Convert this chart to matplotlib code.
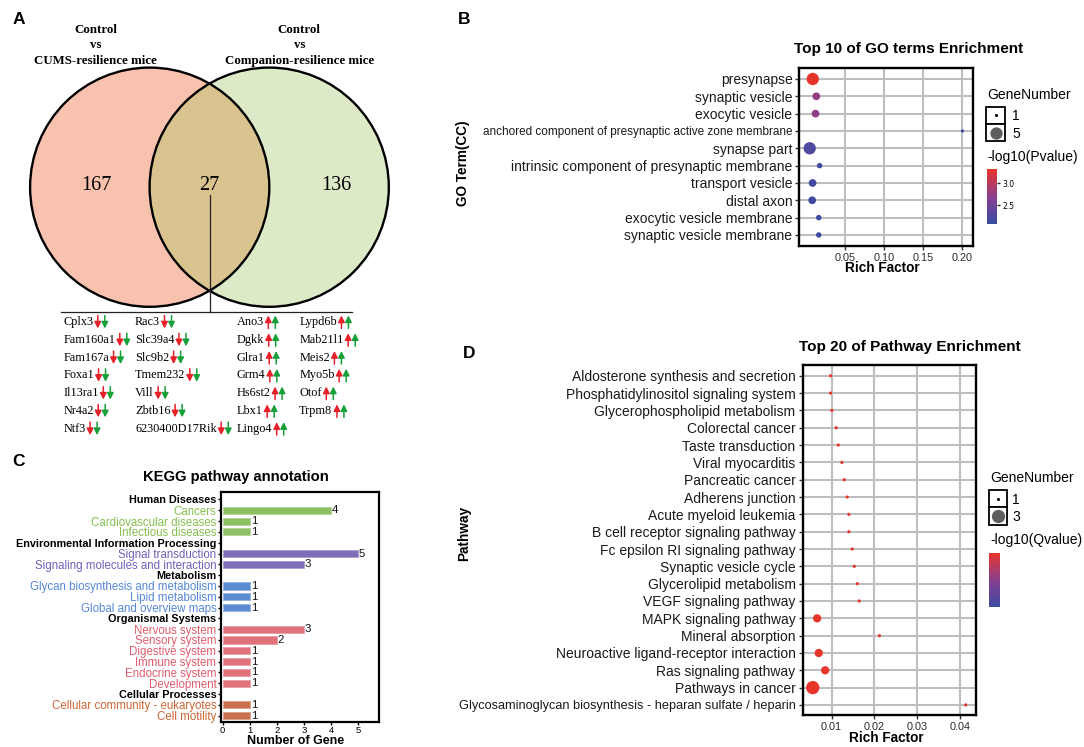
import numpy as np
import matplotlib
matplotlib.use("Agg")
import matplotlib.pyplot as plt
from matplotlib.patches import Circle, Rectangle
from matplotlib.colors import LinearSegmentedColormap, Normalize, to_rgb
from matplotlib.cm import ScalarMappable

W, H, DPI = 1084, 747, 100
SANS = "Liberation Sans"
SERIF = "Liberation Serif"

# ------------------------------------------------------------------ data
venn_titles = ["Control\nvs\nCUMS-resilience mice",
               "Control\nvs\nCompanion-resilience mice"]
venn_counts = [167, 27, 136]          # left only, shared, right only

gene_col1 = ["Cplx3", "Fam160a1", "Fam167a", "Foxa1", "Il13ra1", "Nr4a2", "Ntf3"]
gene_col2 = ["Rac3", "Slc39a4", "Slc9b2", "Tmem232", "Vill", "Zbtb16", "6230400D17Rik"]
gene_col3 = ["Ano3", "Dgkk", "Glra1", "Grm4", "Hs6st2", "Lbx1", "Lingo4"]
gene_col4 = ["Lypd6b", "Mab21l1", "Meis2", "Myo5b", "Otof", "Trpm8"]
# direction in (CUMS, Companion) per column
gene_col_dirs = [("down", "down"), ("down", "down"), ("up", "up"), ("up", "up")]

go_terms = ["presynapse", "synaptic vesicle", "exocytic vesicle",
            "anchored component of presynaptic active zone membrane",
            "synapse part", "intrinsic component of presynaptic membrane",
            "transport vesicle", "distal axon", "exocytic vesicle membrane",
            "synaptic vesicle membrane"]
go_rich = [0.0081, 0.0127, 0.0117, 0.200, 0.0042, 0.0169, 0.0079, 0.0074, 0.0158, 0.0158]
go_count = [5, 3, 3, 1, 5, 2, 3, 3, 2, 2]
go_logp = [3.30, 2.76, 2.72, 2.10, 2.24, 2.12, 2.15, 2.14, 2.10, 2.10]
go_xticks = [0.05, 0.10, 0.15, 0.20]
go_legend_counts = [1, 5]
go_cbar_ticks = [2.5, 3.0]

pw_terms = ["Aldosterone synthesis and secretion",
            "Phosphatidylinositol signaling system",
            "Glycerophospholipid metabolism", "Colorectal cancer",
            "Taste transduction", "Viral myocarditis", "Pancreatic cancer",
            "Adherens junction", "Acute myeloid leukemia",
            "B cell receptor signaling pathway",
            "Fc epsilon RI signaling pathway", "Synaptic vesicle cycle",
            "Glycerolipid metabolism", "VEGF signaling pathway",
            "MAPK signaling pathway", "Mineral absorption",
            "Neuroactive ligand-receptor interaction", "Ras signaling pathway",
            "Pathways in cancer",
            "Glycosaminoglycan biosynthesis - heparan sulfate / heparin"]
pw_rich = [0.00977, 0.00977, 0.01008, 0.01109, 0.01156, 0.01242, 0.01297,
           0.01367, 0.01406, 0.01406, 0.01484, 0.01531, 0.01602, 0.01648,
           0.00662, 0.0212, 0.0070, 0.0085, 0.0056, 0.0414]
pw_count = [1, 1, 1, 1, 1, 1, 1, 1, 1, 1, 1, 1, 1, 1, 2, 1, 2, 2, 3, 1]
pw_logq = [1.0] * 20
pw_xticks = [0.01, 0.02, 0.03, 0.04]
pw_legend_counts = [1, 3]

kegg_groups = ["Human Diseases", "Environmental Information Processing",
               "Metabolism", "Organismal Systems", "Cellular Processes"]
kegg_terms = [["Cancers", "Cardiovascular diseases", "Infectious diseases"],
              ["Signal transduction", "Signaling molecules and interaction"],
              ["Glycan biosynthesis and metabolism", "Lipid metabolism",
               "Global and overview maps"],
              ["Nervous system", "Sensory system", "Digestive system",
               "Immune system", "Endocrine system", "Development"],
              ["Cellular community - eukaryotes", "Cell motility"]]
kegg_counts = [[4, 1, 1], [5, 3], [1, 1, 1], [3, 2, 1, 1, 1, 1], [1, 1]]
kegg_bar_colors = ["#8DC063", "#7E6EB8", "#5D8BD0", "#E0727B", "#C9714F"]
kegg_text_colors = ["#86BF4E", "#7160B8", "#5587D6", "#E05C6C", "#CD6535"]

# ------------------------------------------------------------------ helpers
fig = plt.figure(figsize=(W / DPI, H / DPI), dpi=DPI)
ov = fig.add_axes([0, 0, 1, 1])
ov.set_xlim(0, W)
ov.set_ylim(H, 0)
ov.axis("off")


def add_ax(l, t, r, b):
    return fig.add_axes([l / W, 1 - b / H, (r - l) / W, (b - t) / H])


def dot_s(v, vmax, dmax_px, dmin_px=3.2):
    d = dmin_px + (dmax_px - dmin_px) * (v - 1) / (vmax - 1)
    return (d * 72.0 / DPI) ** 2


def lighten(c, f):
    r, g, b = to_rgb(c)
    return (r + (1 - r) * f, g + (1 - g) * f, b + (1 - b) * f)


cmap = LinearSegmentedColormap.from_list("bp", ["#3A4BA3", "#893F8E", "#E8352B"])

# panel letters
for lab, x, y in [("A", 13, 20), ("B", 458, 19), ("C", 12, 462), ("D", 463, 354)]:
    ov.text(x, y, lab, family=SANS, fontsize=12.5, fontweight="bold",
            ha="left", va="center")

# ------------------------------------------------------------------ panel A
cL, cR, rad = (149.7, 187.2), (269.2, 187.2), 119.6
ov.add_patch(Circle(cL, rad, facecolor="#F9C2AF", edgecolor="none", zorder=1))
ov.add_patch(Circle(cR, rad, facecolor="#DDEAC7", edgecolor="none", zorder=1))
clip = Circle(cR, rad, transform=ov.transData)
lens = Circle(cL, rad, facecolor="#D9C48F", edgecolor="none", zorder=2)
ov.add_patch(lens)
lens.set_clip_path(clip)
for c in (cL, cR):
    ov.add_patch(Circle(c, rad, fill=False, edgecolor="black", lw=1.7, zorder=3))

for x, cnt in zip([96.7, 209.7, 336.0], venn_counts):
    ov.text(x, 185, str(cnt), family=SERIF, fontsize=14.5, ha="center",
            va="center", zorder=4)
for x, t in zip([95.7, 299.3], venn_titles):
    ov.text(x, 45.5, t, family=SERIF, fontsize=9.3, fontweight="bold",
            ha="center", va="center", multialignment="center", linespacing=1.38)

ov.plot([209.7, 209.7], [195, 312.3], color="#222222", lw=0.9, zorder=4)
ov.plot([60.7, 351.7], [312.3, 312.3], color="#222222", lw=0.9, zorder=4)

renderer = fig.canvas.get_renderer()
arrow_colors = ["#E8202A", "#17A03A"]
for x0, genes, dirs in zip([63.3, 135.0, 236.7, 299.3],
                           [gene_col1, gene_col2, gene_col3, gene_col4],
                           gene_col_dirs):
    for i, g in enumerate(genes):
        y = 322.0 + i * 17.77
        t = ov.text(x0, y, g, family=SERIF, fontsize=8.8, ha="left", va="center")
        bb = t.get_window_extent(renderer=renderer)
        xe = bb.x1
        for k, (d, col) in enumerate(zip(dirs, arrow_colors)):
            xa = xe + 4.5 + k * 7.0
            if d == "down":
                ys, ye = y - 6.5, y + 6.5
            else:
                ys, ye = y + 6.5, y - 6.5
            ov.annotate("", xy=(xa, ye), xytext=(xa, ys),
                        arrowprops=dict(arrowstyle="-|>,head_length=0.55,head_width=0.28",
                                        color=col, lw=1.1, mutation_scale=7,
                                        shrinkA=0, shrinkB=0))


# ------------------------------------------------------------------ dot plots
def dot_panel(ax, terms, rich, counts, cvals, norm, vmax_count, dmax, xticks,
              xlim, ylim_pad, long_fs):
    n = len(terms)
    y = np.arange(n)
    s = [dot_s(v, vmax_count, dmax) for v in counts]
    ax.scatter(rich, y, s=s, c=cvals, cmap=cmap, norm=norm, linewidths=0, zorder=3)
    ax.set_xlim(*xlim)
    ax.set_ylim(n - 1 + ylim_pad[1], -ylim_pad[0])
    ax.set_yticks(y)
    ax.set_yticklabels(terms)
    for lab in ax.get_yticklabels():
        lab.set_family(SANS)
        lab.set_fontsize(10 if len(lab.get_text()) < 50 else long_fs)
        lab.set_color("#1a1a1a")
    ax.set_xticks(xticks)
    ax.set_xticklabels(["%.2f" % v for v in xticks], family=SANS, fontsize=7.8,
                       color="#2a2a2a")
    ax.grid(True, color="#BEBEBE", lw=1.5)
    ax.set_axisbelow(True)
    ax.tick_params(axis="both", length=3, width=1, color="#333333", pad=2)
    for sp in ax.spines.values():
        sp.set_linewidth(1.7)
        sp.set_color("black")


# panel B
axB = add_ax(799.4, 67.7, 973.1, 245.7)
normB = Normalize(2.08, 3.31)
dot_panel(axB, go_terms, go_rich, go_count, go_logp, normB, max(go_legend_counts),
          12.3, go_xticks, (-0.009, 0.2137), (0.65, 0.62), 8.5)
ov.text(908.6, 49, "Top 10 of GO terms Enrichment", family=SANS, fontsize=11,
        fontweight="bold", ha="center", va="center")
ov.text(882.7, 268.5, "Rich Factor", family=SANS, fontsize=9.8,
        fontweight="bold", ha="center", va="center")
ov.text(463.4, 163, "GO Term(CC)", family=SANS, fontsize=9.8, fontweight="bold",
        ha="center", va="center", rotation=90)

# legend B
ov.text(987, 95, "GeneNumber", family=SANS, fontsize=10, ha="left", va="center")
for j, v in enumerate(go_legend_counts):
    y0 = 106.7 + j * 17.3
    ov.add_patch(Rectangle((986.2, y0), 18.9, 17.3, facecolor="white",
                           edgecolor="black", lw=1.3, zorder=2))
    ov.scatter([995.6], [y0 + 8.65], s=dot_s(v, max(go_legend_counts), 12.3),
               color="#111111" if v == 1 else "#5E5E5E", linewidths=0, zorder=3)
    ov.text(1012, y0 + 9.5, str(v), family=SANS, fontsize=10, ha="left", va="center")
ov.text(987, 156.7, "-log10(Pvalue)", family=SANS, fontsize=10, ha="left", va="center")
caxB = add_ax(987, 169.3, 997.3, 224)
cbB = fig.colorbar(ScalarMappable(norm=normB, cmap=cmap), cax=caxB, ticks=go_cbar_ticks)
cbB.outline.set_visible(False)
cbB.set_ticklabels(["%.1f" % v for v in go_cbar_ticks])
caxB.tick_params(labelsize=5.5, length=2.5, width=1, color="#222222", pad=1)

# panel D
axD = add_ax(802.5, 364.5, 976.0, 715.0)
normD = Normalize(min(pw_logq) - 0.5, max(pw_logq))
dot_panel(axD, pw_terms, pw_rich, pw_count, pw_logq, normD, max(pw_legend_counts),
          13.3, pw_xticks, (0.0032, 0.0438), (0.65, 0.58), 9.2)
ov.text(909.9, 346.7, "Top 20 of Pathway Enrichment", family=SANS, fontsize=11,
        fontweight="bold", ha="center", va="center")
ov.text(886, 738, "Rich Factor", family=SANS, fontsize=9.8,
        fontweight="bold", ha="center", va="center")
ov.text(463.8, 533, "Pathway", family=SANS, fontsize=9.8, fontweight="bold",
        ha="center", va="center", rotation=90)

# legend D
ov.text(990, 478.3, "GeneNumber", family=SANS, fontsize=10, ha="left", va="center")
for j, v in enumerate(pw_legend_counts):
    y0 = 490.0 + j * 17.35
    ov.add_patch(Rectangle((989.3, y0), 17.7, 17.35, facecolor="white",
                           edgecolor="black", lw=1.3, zorder=2))
    ov.scatter([998.15], [y0 + 8.7], s=dot_s(v, max(pw_legend_counts), 13.3),
               color="#111111" if v == 1 else "#5E5E5E", linewidths=0, zorder=3)
    ov.text(1012, y0 + 10, str(v), family=SANS, fontsize=10, ha="left", va="center")
ov.text(990, 540, "-log10(Qvalue)", family=SANS, fontsize=10, ha="left", va="center")
caxD = add_ax(989.3, 552.7, 1000, 607.3)
cbD = fig.colorbar(ScalarMappable(norm=normD, cmap=cmap), cax=caxD, ticks=[])
cbD.outline.set_visible(False)

# ------------------------------------------------------------------ panel C
labels, values, tcolors, bcolors, header = [], [], [], [], []
for gname, terms, cnts, bc, tc in zip(kegg_groups, kegg_terms, kegg_counts,
                                      kegg_bar_colors, kegg_text_colors):
    labels.append(gname); values.append(None); tcolors.append("black")
    bcolors.append(None); header.append(True)
    for t, v in zip(terms, cnts):
        labels.append(t); values.append(v); tcolors.append(tc)
        bcolors.append(bc); header.append(False)

axC = add_ax(220.7, 491.7, 379.0, 721.7)
nC = len(labels)
yc = np.arange(nC)
for yi, v, bc in zip(yc, values, bcolors):
    if v is None:
        continue
    axC.barh(yi, v, height=0.66, color=bc, edgecolor=lighten(bc, 0.35), lw=0.7,
             zorder=2)
    axC.text(v + 0.03, yi, str(v), family=SANS, fontsize=8.2, ha="left",
             va="center", color="#111111")
axC.set_ylim(nC - 1 + 0.56, -0.72)
axC.set_xlim(-0.074, 5.77)
axC.set_yticks(yc)
axC.set_yticklabels(labels)
for lab, tc, hd in zip(axC.get_yticklabels(), tcolors, header):
    lab.set_family(SANS)
    lab.set_color(tc)
    if hd:
        lab.set_fontweight("bold")
        lab.set_fontsize(7.8)
    else:
        lab.set_fontsize(8.3)
axC.set_xticks(range(6))
axC.set_xticklabels([str(i) for i in range(6)], family=SANS, fontsize=6.8)
axC.tick_params(axis="both", length=2.3, width=1, color="black", pad=0.8)
for sp in axC.spines.values():
    sp.set_linewidth(1.6)
    sp.set_color("black")
ov.text(235.7, 476.7, "KEGG pathway annotation", family=SANS, fontsize=10.6,
        fontweight="bold", ha="center", va="center")
ov.text(295.7, 741.0, "Number of Gene", family=SANS, fontsize=9.0,
        fontweight="bold", ha="center", va="center")

fig.savefig("out.png", dpi=DPI)
